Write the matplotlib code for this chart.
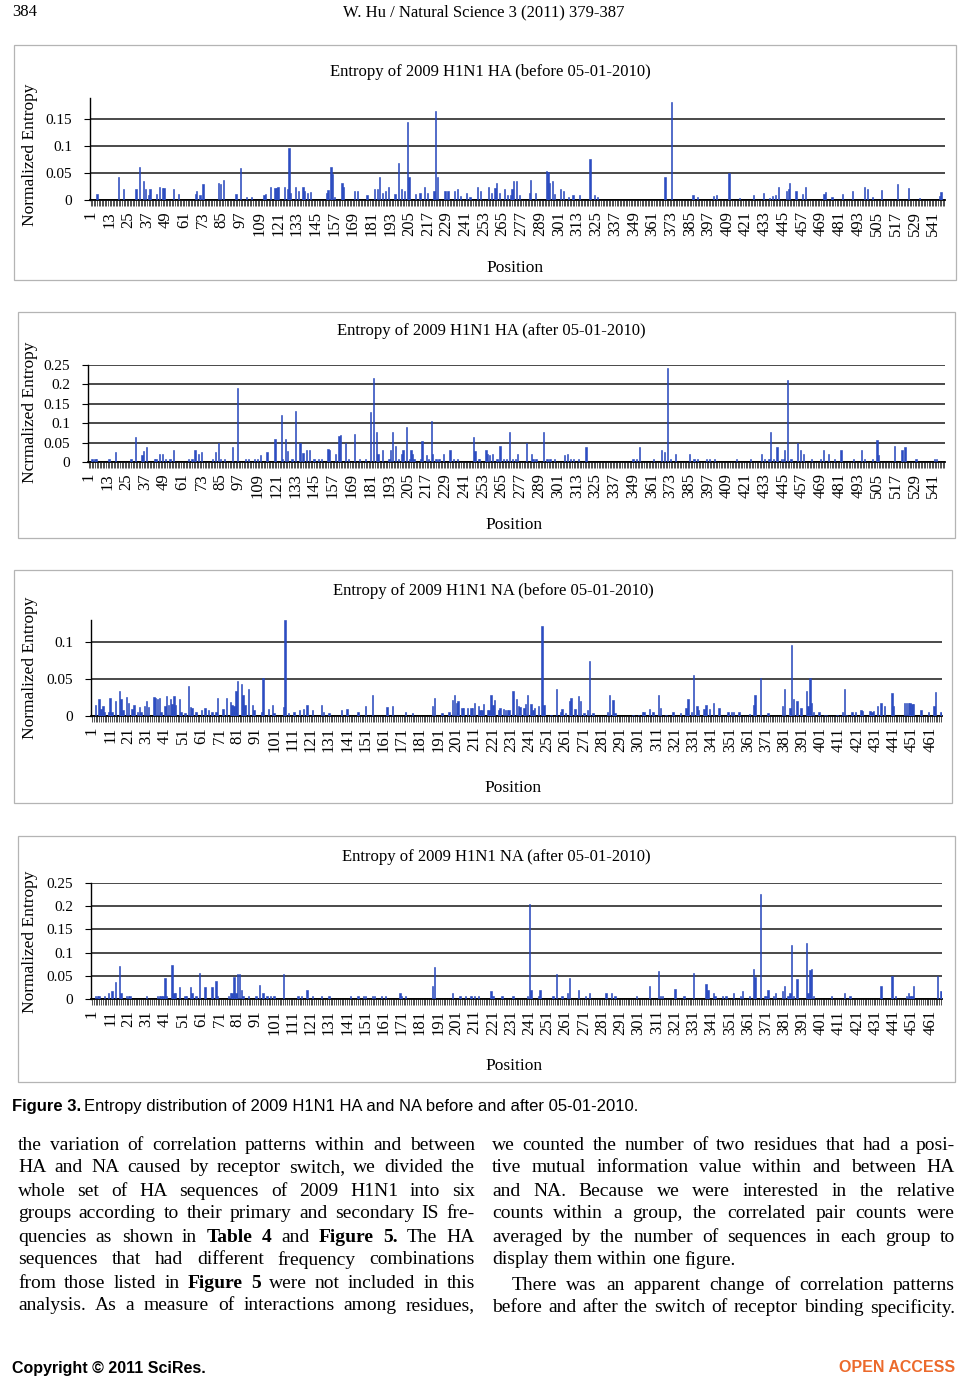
import matplotlib
matplotlib.use('Agg')
import matplotlib.pyplot as plt
from matplotlib.patches import Rectangle

plt.rcParams['font.family'] = ['Liberation Serif', 'DejaVu Serif']

W, H = 968, 1388

# ---- data (sparse: positions with a visible bar) ----
ha_n = 548
na_n = 467

ha_before_pos = [5, 19, 22, 30, 32, 35, 36, 38, 39, 43, 45, 47, 48, 54, 57, 68, 69, 71, 73, 83,
                 84, 86, 94, 97, 101, 104, 112, 113, 116, 119, 120, 121, 125, 127, 128, 129, 132,
                 134, 137, 138, 140, 142, 152, 153, 155, 156, 157, 162, 163, 170, 172, 178, 183,
                 185, 186, 188, 190, 192, 196, 198, 200, 202, 204, 205, 209, 212, 215, 217, 221,
                 222, 223, 228, 230, 234, 236, 238, 242, 244, 249, 251, 256, 258, 260, 261, 263,
                 266, 268, 270, 271, 272, 274, 276, 282, 283, 286, 293, 294, 295, 297, 298, 302,
                 304, 307, 310, 314, 321, 324, 326, 369, 373, 387, 390, 400, 402, 410, 417, 426,
                 432, 436, 438, 440, 442, 447, 448, 449, 453, 457, 459, 471, 472, 476, 483, 489,
                 497, 499, 502, 508, 518, 525, 532, 545, 546]
ha_before_val = [0.011, 0.043, 0.020, 0.020, 0.062, 0.035, 0.020, 0.009, 0.021, 0.011, 0.025, 0.023,
                 0.022, 0.020, 0.011, 0.011, 0.017, 0.010, 0.029, 0.031, 0.030, 0.038, 0.011, 0.060,
                 0.006, 0.006, 0.010, 0.011, 0.025, 0.022, 0.022, 0.024, 0.025, 0.021, 0.096, 0.013,
                 0.025, 0.017, 0.025, 0.017, 0.013, 0.015, 0.013, 0.019, 0.062, 0.049, 0.006, 0.031,
                 0.025, 0.016, 0.017, 0.010, 0.021,
                 0.020, 0.043, 0.013, 0.016, 0.025, 0.011, 0.068, 0.021, 0.016, 0.146, 0.043, 0.011,
                 0.013, 0.025, 0.013, 0.016, 0.166, 0.043, 0.016, 0.017, 0.016, 0.020, 0.008, 0.013,
                 0.006, 0.025, 0.017, 0.024, 0.013, 0.022, 0.031, 0.013, 0.021, 0.009, 0.010, 0.021,
                 0.035, 0.035, 0.009, 0.013, 0.038, 0.013, 0.054, 0.052, 0.031, 0.035, 0.011, 0.020,
                 0.017, 0.006, 0.009, 0.009, 0.076, 0.010, 0.006,
                 0.043, 0.183, 0.010, 0.006, 0.007, 0.010, 0.050, 0.004, 0.010, 0.013, 0.004, 0.008,
                 0.009, 0.025, 0.016, 0.021, 0.031, 0.017, 0.011, 0.024, 0.012, 0.015, 0.006, 0.012,
                 0.016, 0.024, 0.020, 0.006, 0.018, 0.029, 0.022, 0.004, 0.008, 0.014]

ha_after_pos = [3, 5, 6, 14, 18, 28, 31, 35, 36, 38, 43, 44, 46, 48, 50, 53, 55, 65, 67, 69, 71, 73,
                80, 82, 84, 85, 88, 93, 96, 101, 103, 107, 109, 111, 115, 120, 124, 125, 127, 128,
                131, 133, 136, 138, 140, 142, 145, 148, 150, 154, 155, 159, 161, 162, 165, 167, 171,
                174, 178, 181, 183, 185, 186, 189, 193, 194, 195, 197, 199, 201, 202, 204, 206, 207,
                208, 209, 213, 214, 217, 218, 220, 221, 223, 225, 228, 232, 234, 237, 247, 248, 250,
                251, 255, 256, 257, 259, 262, 264, 266, 268, 270, 272, 274, 275, 281, 284, 285, 287,
                292, 294, 296, 299, 305, 307, 309, 311, 314, 319, 349, 351, 353, 362, 367, 369, 371,
                373, 376, 385, 388, 390, 396, 398, 401, 415, 424, 431, 433, 436, 437, 439, 441, 444,
                445, 446, 448, 450, 454, 456, 458, 463, 469, 471, 474, 478, 482, 490, 495, 497, 502,
                505, 506, 516, 521, 523, 530, 542, 543]
ha_after_val = [0.009, 0.009, 0.009, 0.009, 0.027, 0.009, 0.064, 0.018, 0.028, 0.038, 0.009, 0.009,
                0.020, 0.020, 0.009, 0.009, 0.030, 0.009, 0.009, 0.030, 0.020, 0.027, 0.009, 0.027,
                0.049, 0.009, 0.009, 0.038, 0.190, 0.009, 0.009, 0.009, 0.009, 0.018, 0.027, 0.060,
                0.122, 0.009, 0.058, 0.028, 0.009, 0.131, 0.049, 0.022, 0.030, 0.032, 0.009, 0.009,
                0.009, 0.033, 0.030, 0.021, 0.067, 0.069, 0.050, 0.009, 0.071, 0.009, 0.009, 0.129,
                0.216, 0.077, 0.021, 0.030, 0.009, 0.030, 0.077, 0.041, 0.009, 0.020, 0.032, 0.091,
                0.009, 0.030, 0.021, 0.009, 0.009, 0.053, 0.018, 0.009, 0.105, 0.021, 0.009, 0.009,
                0.021, 0.030, 0.009, 0.009, 0.064, 0.028, 0.009, 0.009, 0.030, 0.021, 0.018, 0.021,
                0.009, 0.042, 0.009, 0.009, 0.077, 0.009, 0.009, 0.020, 0.050, 0.021, 0.009, 0.009,
                0.077, 0.009, 0.009, 0.009, 0.018, 0.021, 0.009, 0.009, 0.009, 0.039, 0.009, 0.009,
                0.039, 0.009, 0.031, 0.027, 0.241, 0.009, 0.020, 0.021, 0.009, 0.009, 0.009, 0.009,
                0.009, 0.009, 0.009, 0.020, 0.009, 0.009, 0.077, 0.009, 0.039, 0.009, 0.009, 0.032,
                0.211, 0.009, 0.050, 0.030, 0.021, 0.009, 0.009, 0.030, 0.020, 0.009, 0.032, 0.009,
                0.032, 0.009, 0.009, 0.057, 0.018, 0.041, 0.030, 0.039, 0.009, 0.009, 0.009]

na_before_pos = [3, 5, 6, 7, 8, 10, 11, 12, 14, 16, 17, 18, 20, 21, 23, 24, 26, 27, 28, 30, 31, 32,
                 35, 36, 37, 38, 39, 41, 42, 43, 44, 45, 46, 47, 49, 50, 52, 54, 55, 56, 58, 61, 63,
                 65, 67, 69, 70, 73, 75, 77, 78, 79, 80, 81, 83, 84, 85, 87, 89, 90, 94, 95, 98, 100,
                 101, 106, 107, 109, 112, 115, 117, 119, 122, 127, 128, 131, 138, 141, 147, 151, 155,
                 163, 166, 173, 177, 188, 189, 193, 197, 199, 200, 201, 202, 204, 205, 207, 209, 210,
                 211, 213, 214, 215, 216, 218, 219, 220, 221, 222, 224, 225, 227, 228, 229, 230, 232,
                 234, 235, 236, 238, 239, 240, 242, 243, 244, 246, 248, 249, 253, 256, 258, 259, 261,
                 263, 264, 266, 268, 269, 271, 273, 274, 276, 284, 285, 287, 288, 298, 301, 303, 304,
                 307, 309, 312, 313, 316, 320, 324, 327, 328, 330, 331, 333, 334, 337, 338, 340, 342,
                 345, 350, 352, 353, 356, 362, 364, 365, 368, 372, 380, 381, 384, 385, 386, 388, 390,
                 393, 394, 395, 396, 397, 400, 403, 404, 410, 413, 414, 415, 418, 420, 423, 424, 428,
                 429, 430, 432, 434, 436, 440, 441, 447, 448, 449, 450, 451, 452, 456, 460, 463, 464,
                 467]
na_before_val = [0.015, 0.023, 0.009, 0.014, 0.006, 0.006, 0.025, 0.006, 0.020, 0.034, 0.023, 0.008,
                 0.026, 0.018, 0.009, 0.015, 0.005, 0.012, 0.006, 0.014, 0.020, 0.012, 0.026, 0.025,
                 0.023, 0.024, 0.005, 0.013, 0.027, 0.015, 0.023, 0.016, 0.027, 0.015, 0.023, 0.005,
                 0.004, 0.040, 0.012, 0.011, 0.006, 0.008, 0.011, 0.008, 0.006, 0.006, 0.024, 0.009,
                 0.024, 0.019, 0.015, 0.014, 0.034, 0.048, 0.044, 0.029, 0.015, 0.036, 0.015, 0.008,
                 0.005, 0.051, 0.009, 0.015, 0.004, 0.012, 0.130, 0.004, 0.006, 0.008, 0.009, 0.015,
                 0.008, 0.015, 0.006, 0.004, 0.008, 0.009, 0.006, 0.014, 0.028,
                 0.012, 0.013, 0.005, 0.004, 0.014, 0.025, 0.004, 0.006, 0.021, 0.029, 0.017, 0.020,
                 0.011, 0.011, 0.011, 0.011, 0.011, 0.018, 0.013, 0.008, 0.008, 0.016, 0.008, 0.008,
                 0.029, 0.015, 0.022, 0.008, 0.011, 0.009, 0.008, 0.008, 0.008, 0.034, 0.023, 0.013,
                 0.012, 0.011, 0.016, 0.029, 0.016, 0.008, 0.011, 0.013, 0.122, 0.015, 0.002, 0.037,
                 0.005, 0.010, 0.004, 0.020, 0.025, 0.010, 0.027, 0.020, 0.004, 0.008, 0.074, 0.004,
                 0.005, 0.029, 0.021, 0.004, 0.002, 0.002, 0.005, 0.006, 0.009, 0.005, 0.028,
                 0.011, 0.002, 0.005, 0.004, 0.011, 0.023, 0.006, 0.056, 0.013, 0.008, 0.009, 0.015,
                 0.009, 0.018, 0.011, 0.005, 0.005, 0.005, 0.005, 0.003, 0.015, 0.028, 0.051, 0.004,
                 0.013, 0.037, 0.011, 0.096, 0.023, 0.020, 0.011, 0.034, 0.013, 0.051, 0.017, 0.006,
                 0.005, 0.002, 0.002, 0.002, 0.005, 0.037, 0.001, 0.005, 0.005, 0.008, 0.007, 0.007,
                 0.006, 0.007, 0.014, 0.017, 0.014, 0.031, 0.013, 0.018, 0.017, 0.018, 0.018, 0.016,
                 0.016, 0.008, 0.006, 0.013, 0.033, 0.005]

na_after_pos = [3, 4, 5, 8, 10, 12, 14, 16, 17, 20, 21, 22, 31, 37, 38, 39, 40, 41, 42, 45, 46, 47,
                49, 52, 53, 55, 56, 58, 60, 63, 67, 69, 70, 76, 77, 78, 79, 80, 81, 82, 83, 84, 87,
                91, 93, 95, 97, 99, 101, 106, 114, 116, 119, 122, 127, 131, 143, 147, 150, 151, 155,
                156, 160, 162, 170, 171, 173, 188, 189, 199, 203, 206, 209, 211, 213, 220, 221, 226,
                232, 240, 241, 242, 246, 247, 254, 256, 259, 262, 263, 268, 272, 274, 283, 286, 288,
                300, 307, 312, 313, 314, 321, 326, 331, 338, 339, 342, 343, 347, 349, 353, 357, 358,
                362, 364, 365, 368, 370, 371, 372, 375, 376, 380, 381, 383, 384, 385, 386, 388, 393,
                394, 395, 396, 397, 407, 414, 417, 434, 440, 442, 448, 449, 450, 451, 452, 465, 467]
na_after_val = [0.006, 0.006, 0.006, 0.006, 0.013, 0.017, 0.036, 0.071, 0.012, 0.006, 0.006, 0.006,
                0.006, 0.006, 0.006, 0.006, 0.006, 0.045, 0.006, 0.073, 0.012, 0.012, 0.026, 0.006,
                0.006, 0.026, 0.012, 0.006, 0.056, 0.026, 0.026, 0.039, 0.006, 0.006, 0.012, 0.012,
                0.048, 0.012, 0.053, 0.053, 0.019, 0.006, 0.006, 0.006, 0.030, 0.012, 0.006, 0.006,
                0.006, 0.053, 0.006, 0.006, 0.020, 0.006, 0.006, 0.006, 0.006, 0.006, 0.006, 0.006,
                0.006, 0.006, 0.006, 0.006, 0.013, 0.006, 0.006, 0.029, 0.068, 0.013, 0.006, 0.006,
                0.006, 0.006, 0.006, 0.017, 0.006, 0.006, 0.006, 0.006, 0.204, 0.020, 0.006, 0.020,
                0.006, 0.053, 0.006, 0.013, 0.045, 0.020, 0.006, 0.013, 0.013, 0.013, 0.006, 0.006,
                0.029, 0.060, 0.006, 0.006, 0.022, 0.006, 0.056, 0.033, 0.019, 0.013, 0.006, 0.006,
                0.006, 0.013, 0.006, 0.017, 0.006, 0.065, 0.048, 0.226, 0.006, 0.006, 0.019, 0.006,
                0.012, 0.017, 0.029, 0.006, 0.013, 0.117, 0.006, 0.043, 0.120, 0.012, 0.063, 0.065,
                0.006, 0.006, 0.013, 0.006, 0.029, 0.050, 0.006, 0.006, 0.013, 0.006, 0.006, 0.029,
                0.049, 0.017]

ha_labels = list(range(1, 542, 12))
na_labels = list(range(1, 462, 10))

titles = ['Entropy of 2009 H1N1 HA (before 05-01-2010)',
          'Entropy of 2009 H1N1 HA (after 05-01-2010)',
          'Entropy of 2009 H1N1 NA (before 05-01-2010)',
          'Entropy of 2009 H1N1 NA (after 05-01-2010)']
ylabels = ['Normalized Entropy', 'Ncrmalized Entropy', 'Normalized Entropy', 'Normalized Entropy']


def fx(x):
    return x / W


def fy(y):
    return 1 - y / H


def box(l, t, r, b):
    return [l / W, 1 - b / H, (r - l) / W, (b - t) / H]


fig = plt.figure(figsize=(W / 100, H / 100), dpi=100)

# panel frames
frames = [(14, 45, 956, 280), (18, 312, 955, 538), (14, 570, 952, 803), (18, 836, 955, 1082)]
for l, t, r, b in frames:
    fig.patches.append(Rectangle((fx(l), fy(b)), (r - l) / W, (b - t) / H,
                                 transform=fig.transFigure, fill=False,
                                 edgecolor='#b4b4b4', lw=0.9))

panels = [
    (ha_before_pos, ha_before_val, ha_n, ha_labels, (90, 98, 945, 200), 0.19, [0, 0.05, 0.1, 0.15]),
    (ha_after_pos, ha_after_val, ha_n, ha_labels, (88, 365, 945, 462), 0.25,
     [0, 0.05, 0.1, 0.15, 0.2, 0.25]),
    (na_before_pos, na_before_val, na_n, na_labels, (91, 620, 942, 716), 0.13, [0, 0.05, 0.1]),
    (na_after_pos, na_after_val, na_n, na_labels, (91, 883, 942, 999), 0.25,
     [0, 0.05, 0.1, 0.15, 0.2, 0.25]),
]
title_xy = [(490, 72), (491, 331), (493, 591), (496, 857)]
ylab_xy = [(30, 155), (30, 412), (30, 668), (30, 942)]
pos_xy = [(515, 268), (514, 525), (513, 788), (514, 1066)]

for i, (p, v, n, labs, bb, ymax, yt) in enumerate(panels):
    ax = fig.add_axes(box(*bb))
    ax.bar(p, v, width=0.8, color='#2b4cc4', edgecolor='#2544b8', lw=0.4, zorder=3)
    ax.set_xlim(0.5, n + 0.5)
    ax.set_ylim(0, ymax)
    ax.set_yticks(yt)
    ax.set_yticklabels(['0' if t == 0 else ('%g' % t) for t in yt], fontsize=11)
    ax.yaxis.grid(True, color='#3a3a3a', lw=1.3, zorder=1)
    ax.set_axisbelow(True)
    for s in ['top', 'right']:
        ax.spines[s].set_visible(False)
    ax.spines['left'].set_linewidth(1.0)
    ax.spines['bottom'].set_linewidth(1.3)
    ax.set_xticks(labs)
    ax.set_xticklabels([str(t) for t in labs], rotation=90, fontsize=12)
    ax.set_xticks(range(1, n + 1), minor=True)
    ax.tick_params(axis='x', which='both', length=4, width=0.6, color='#333333', pad=4)
    ax.tick_params(axis='y', length=4, width=0.8, pad=9)
    fig.text(fx(title_xy[i][0]), fy(title_xy[i][1]), titles[i], fontsize=12,
             ha='center', va='center')
    fig.text(fx(ylab_xy[i][0]), fy(ylab_xy[i][1]), ylabels[i], fontsize=12.5,
             ha='center', va='center', rotation=90)
    fig.text(fx(pos_xy[i][0]), fy(pos_xy[i][1]), 'Position', fontsize=12.5,
             ha='center', va='center')

# ---- page text ----
fig.text(fx(12), fy(12), '384', fontsize=12, ha='left', va='center')
fig.text(fx(484), fy(12), 'W. Hu / Natural Science 3 (2011) 379-387', fontsize=12,
         ha='center', va='center')

fig.text(fx(12), fy(1106), 'Figure 3.', fontsize=12, fontweight='bold', ha='left', va='center',
         family='Liberation Sans')
fig.text(fx(84), fy(1106), 'Entropy distribution of 2009 H1N1 HA and NA before and after 05-01-2010.',
         fontsize=12, ha='left', va='center', family='Liberation Sans')

left_lines = [
    'the variation of correlation patterns within and between',
    'HA and NA caused by receptor switch, we divided the',
    'whole set of HA sequences of 2009 H1N1 into six',
    'groups according to their primary and secondary IS fre-',
    'quencies as shown in ^Table ^4 and ^Figure ^5. The HA',
    'sequences that had different frequency combinations',
    'from those listed in ^Figure ^5 were not included in this',
    'analysis. As a measure of interactions among residues,',
]
right_lines = [
    'we counted the number of two residues that had a posi-',
    'tive mutual information value within and between HA',
    'and NA. Because we were interested in the relative',
    'counts within a group, the correlated pair counts were',
    'averaged by the number of sequences in each group to',
    'display them within one figure.',
    'There was an apparent change of correlation patterns',
    'before and after the switch of receptor binding specificity.',
]
left_y = [1145, 1168, 1191, 1214, 1237, 1260, 1283, 1306]
right_y = [1145, 1168, 1191, 1214, 1237, 1260, 1286, 1308]

renderer = fig.canvas.get_renderer()


def put_line(line, x0, x1, y, justify=True):
    items = []
    for w in line.split():
        bold = w.startswith('^')
        t = fig.text(0, fy(y), w.lstrip('^'), fontsize=14, va='center', ha='left',
                     fontweight='bold' if bold else 'normal')
        items.append((t, t.get_window_extent(renderer).width))
    total = sum(w for _, w in items)
    gap = (x1 - x0 - total) / (len(items) - 1) if justify else 4.8
    x = x0
    for t, w in items:
        t.set_x(fx(x))
        x += w + gap


for line, y in zip(left_lines, left_y):
    put_line(line, 18, 475, y)
for k, (line, y) in enumerate(zip(right_lines, right_y)):
    x0 = 512 if k == 6 else 492
    put_line(line, x0, 955, y, justify=(k != 5))

fig.text(fx(12), fy(1368), 'Copyright \u00a9 2011 SciRes.', fontsize=11.5, fontweight='bold',
         family='Liberation Sans', ha='left', va='center')
fig.text(fx(955), fy(1368), 'OPEN ACCESS', fontsize=11.5, fontweight='bold',
         family='Liberation Sans', ha='right', va='center', color='#ec6a2c')

fig.savefig('out.png', dpi=100)
